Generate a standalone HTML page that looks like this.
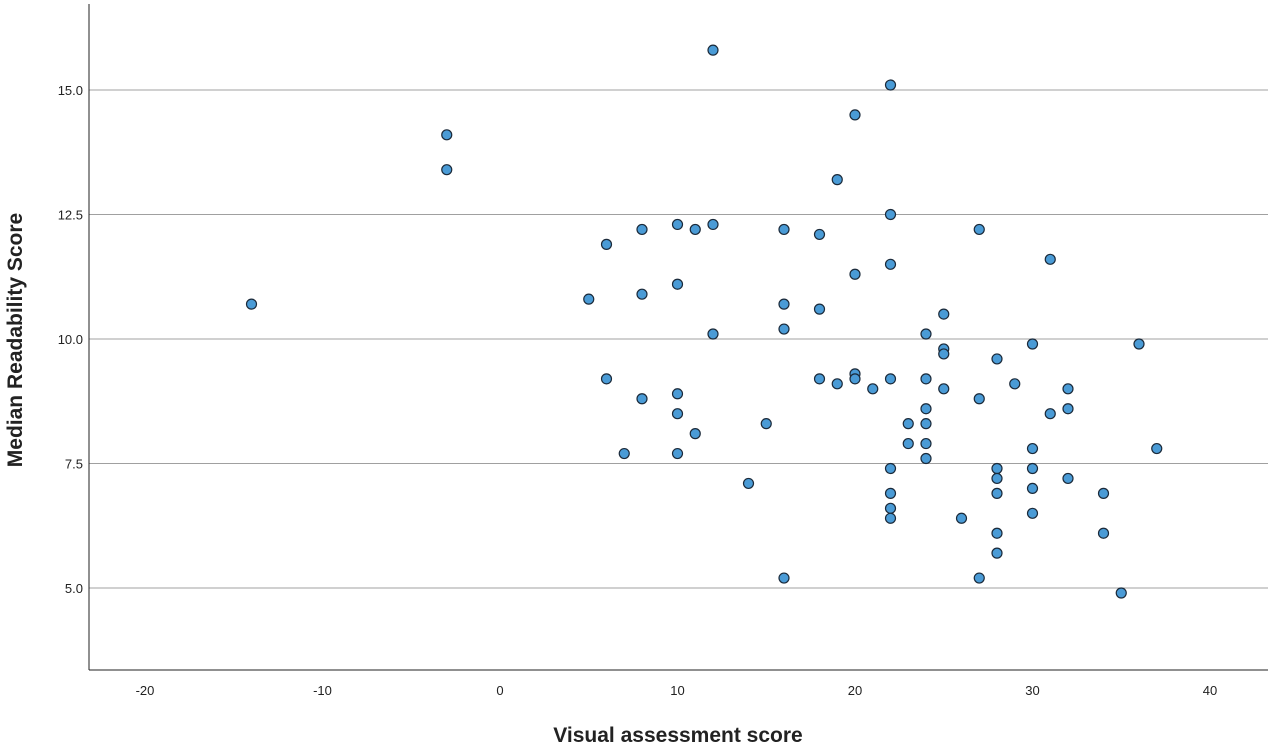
<!DOCTYPE html>
<html><head><meta charset="utf-8"><style>
body{margin:0;background:#fff}
svg{display:block;font-family:"Liberation Sans",Arial,sans-serif}
</style></head><body>
<svg id="chart" width="1280" height="751" viewBox="0 0 1280 751">
<g id="grid"></g>
<g id="axes"></g>
<g id="points"></g>
<text x="678" y="742" text-anchor="middle" font-size="21" font-weight="bold" fill="#222">Visual assessment score</text>
<text transform="translate(22,340) rotate(-90)" text-anchor="middle" font-size="21" font-weight="bold" fill="#222">Median Readability Score</text>
</svg>
<script>
const xTicks=[-20,-10,0,10,20,30,40];
const yTicks=[5.0,7.5,10.0,12.5,15.0];
const xVals=[-14,-3,-3,5,6,6,7,8,8,8,10,10,10,10,10,11,11,12,12,12,14,15,16,16,16,16,18,18,18,19,19,20,20,20,20,21,22,22,22,22,22,22,22,22,23,23,24,24,24,24,24,24,25,25,25,25,26,27,27,27,28,28,28,28,28,28,29,30,30,30,30,30,31,31,32,32,32,34,34,35,36,37];
const yVals=[10.7,14.1,13.4,10.8,11.9,9.2,7.7,12.2,10.9,8.8,12.3,11.1,8.9,8.5,7.7,12.2,8.1,15.8,12.3,10.1,7.1,8.3,12.2,10.7,10.2,5.2,12.1,10.6,9.2,13.2,9.1,14.5,11.3,9.3,9.2,9.0,15.1,12.5,11.5,9.2,7.4,6.9,6.6,6.4,8.3,7.9,10.1,9.2,8.6,8.3,7.9,7.6,10.5,9.8,9.7,9.0,6.4,12.2,8.8,5.2,9.6,7.4,7.2,6.9,6.1,5.7,9.1,9.9,7.8,7.4,7.0,6.5,11.6,8.5,9.0,8.6,7.2,6.9,6.1,4.9,9.9,7.8];
const L=89,R=1268,T=4,B=670;
const xs=v=>500+17.75*v;
const ys=v=>339-(v-10)*49.8;
const NS="http://www.w3.org/2000/svg";
function mk(t,a,p){const e=document.createElementNS(NS,t);for(const k in a)e.setAttribute(k,a[k]);p.appendChild(e);return e;}
const grid=document.getElementById('grid'),axes=document.getElementById('axes'),pts=document.getElementById('points');
yTicks.forEach(v=>{
 const l=mk('line',{x1:L,x2:R,y1:ys(v),y2:ys(v),stroke:'#a0a0a0','stroke-width':1},grid);
 
 
 const t=mk('text',{x:L-6,y:ys(v)+5,'text-anchor':'end','font-size':13,fill:'#222'},axes);
 t.textContent=v.toFixed(1);
 
 
});
xTicks.forEach(v=>{
 const t=mk('text',{x:xs(v),y:695,'text-anchor':'middle','font-size':13,fill:'#222'},axes);
 t.textContent=v;
 
 
});
const ya=mk('line',{x1:L,x2:L,y1:T,y2:B,stroke:'#222','stroke-width':1},axes);


const xa=mk('line',{x1:L,x2:R,y1:B,y2:B,stroke:'#222','stroke-width':1},axes);


xVals.forEach((x,i)=>{
 const c=mk('circle',{cx:xs(x),cy:ys(yVals[i]),r:5,fill:'#4a9bd6',stroke:'#1b2a3a','stroke-width':1.2},pts);
 
 
});
</script>
</body></html>
